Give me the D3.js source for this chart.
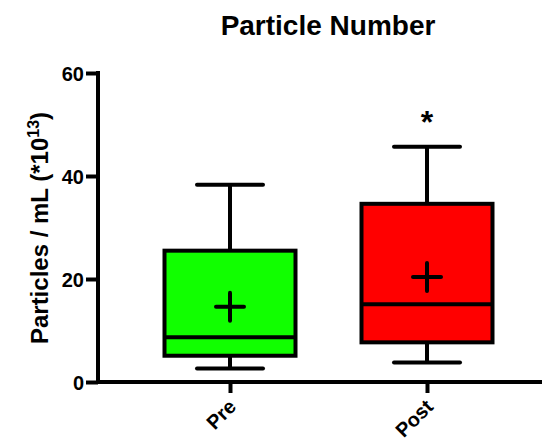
<!DOCTYPE html>
<html><head><meta charset="utf-8">
<script src="https://cdn.jsdelivr.net/npm/d3@7"></script>
<style>body{margin:0;background:#fff}svg{display:block}text{font-family:"Liberation Sans",Arial,sans-serif;font-weight:bold}</style>
</head><body><svg id="c" width="542" height="443"></svg>
<script>
const categories = ["Pre", "Post"];
const mins = [2.6, 3.8];
const q1s = [5.1, 7.7];
const medians = [8.7, 15.1];
const q3s = [25.5, 34.6];
const maxs = [38.3, 45.7];
const means = [14.6, 20.4];
const colors = ["#11ff00", "#ff0000"];
const significance = ["", "*"];
const yTicks = [0, 20, 40, 60];

const svg = d3.select("#c");
const x = d3.scalePoint().domain(categories).range([230, 427]);
const y = d3.scaleLinear().domain([0, 60]).range([382, 73]);
const boxW = 131, capW = 66, sw = 4;

// title
svg.append("text").attr("x", 328).attr("y", 35).attr("text-anchor", "middle")
  .attr("font-size", 28).text("Particle Number");

// y-axis
const ya = svg.append("g").attr("transform", "translate(98,0)")
  .call(d3.axisLeft(y).tickValues(yTicks).tickSize(12).tickPadding(2).tickFormat(d3.format("d")));
ya.select(".domain").attr("stroke", "#000").attr("stroke-width", sw).attr("d", `M0,${y(60)-2}V${y(0)}`);
ya.selectAll(".tick line").attr("stroke", "#000").attr("stroke-width", sw);
ya.selectAll(".tick text").attr("font-size", 20).attr("fill", "#000").attr("dy", "0.35em");

// x-axis
const xa = svg.append("g").attr("transform", "translate(0,382)")
  .call(d3.axisBottom(x).tickSize(11).tickPadding(4));
xa.select(".domain").attr("stroke", "#000").attr("stroke-width", sw).attr("d", "M96,0H542");
xa.selectAll(".tick line").attr("stroke", "#000").attr("stroke-width", sw);
xa.selectAll(".tick text").attr("font-size", 20).attr("fill", "#000")
  .attr("text-anchor", "end").attr("x", 0).attr("y", 0).attr("dy", "0.35em")
  .attr("transform", "translate(2,21) rotate(-45)");

// y-axis title
const yt = svg.append("text").attr("transform", "translate(48,228) rotate(-90)")
  .attr("text-anchor", "middle").attr("font-size", 24);
yt.append("tspan").text("Particles / mL (*10");
yt.append("tspan").attr("font-size", 16).attr("dy", -9).text("13");
yt.append("tspan").attr("dy", 9).text(")");

// boxes
const data = categories.map((c, i) => ({c, min: mins[i], q1: q1s[i], med: medians[i], q3: q3s[i], max: maxs[i], mean: means[i], col: colors[i], sig: significance[i]}));
const g = svg.append("g").attr("stroke", "#000").attr("stroke-width", sw).attr("fill", "none");
data.forEach(d => {
  const cx = x(d.c);
  g.append("line").attr("x1", cx).attr("x2", cx).attr("y1", y(d.max)).attr("y2", y(d.q3));
  g.append("line").attr("x1", cx).attr("x2", cx).attr("y1", y(d.q1)).attr("y2", y(d.min));
  g.append("line").attr("x1", cx - capW/2).attr("x2", cx + capW/2).attr("y1", y(d.max)).attr("y2", y(d.max)).attr("stroke-linecap", "round");
  g.append("line").attr("x1", cx - capW/2).attr("x2", cx + capW/2).attr("y1", y(d.min)).attr("y2", y(d.min)).attr("stroke-linecap", "round");
  g.append("rect").attr("x", cx - boxW/2).attr("y", y(d.q3)).attr("width", boxW).attr("height", y(d.q1) - y(d.q3)).attr("fill", d.col);
  g.append("line").attr("x1", cx - boxW/2).attr("x2", cx + boxW/2).attr("y1", y(d.med)).attr("y2", y(d.med));
  g.append("line").attr("x1", cx - 14).attr("x2", cx + 14).attr("y1", y(d.mean)).attr("y2", y(d.mean)).attr("stroke-linecap", "round");
  g.append("line").attr("x1", cx).attr("x2", cx).attr("y1", y(d.mean) - 14).attr("y2", y(d.mean) + 14).attr("stroke-linecap", "round");
  if (d.sig) svg.append("text").attr("x", cx).attr("y", y(d.max) - 14).attr("text-anchor", "middle").attr("font-size", 32).text(d.sig);
});
</script></body></html>
